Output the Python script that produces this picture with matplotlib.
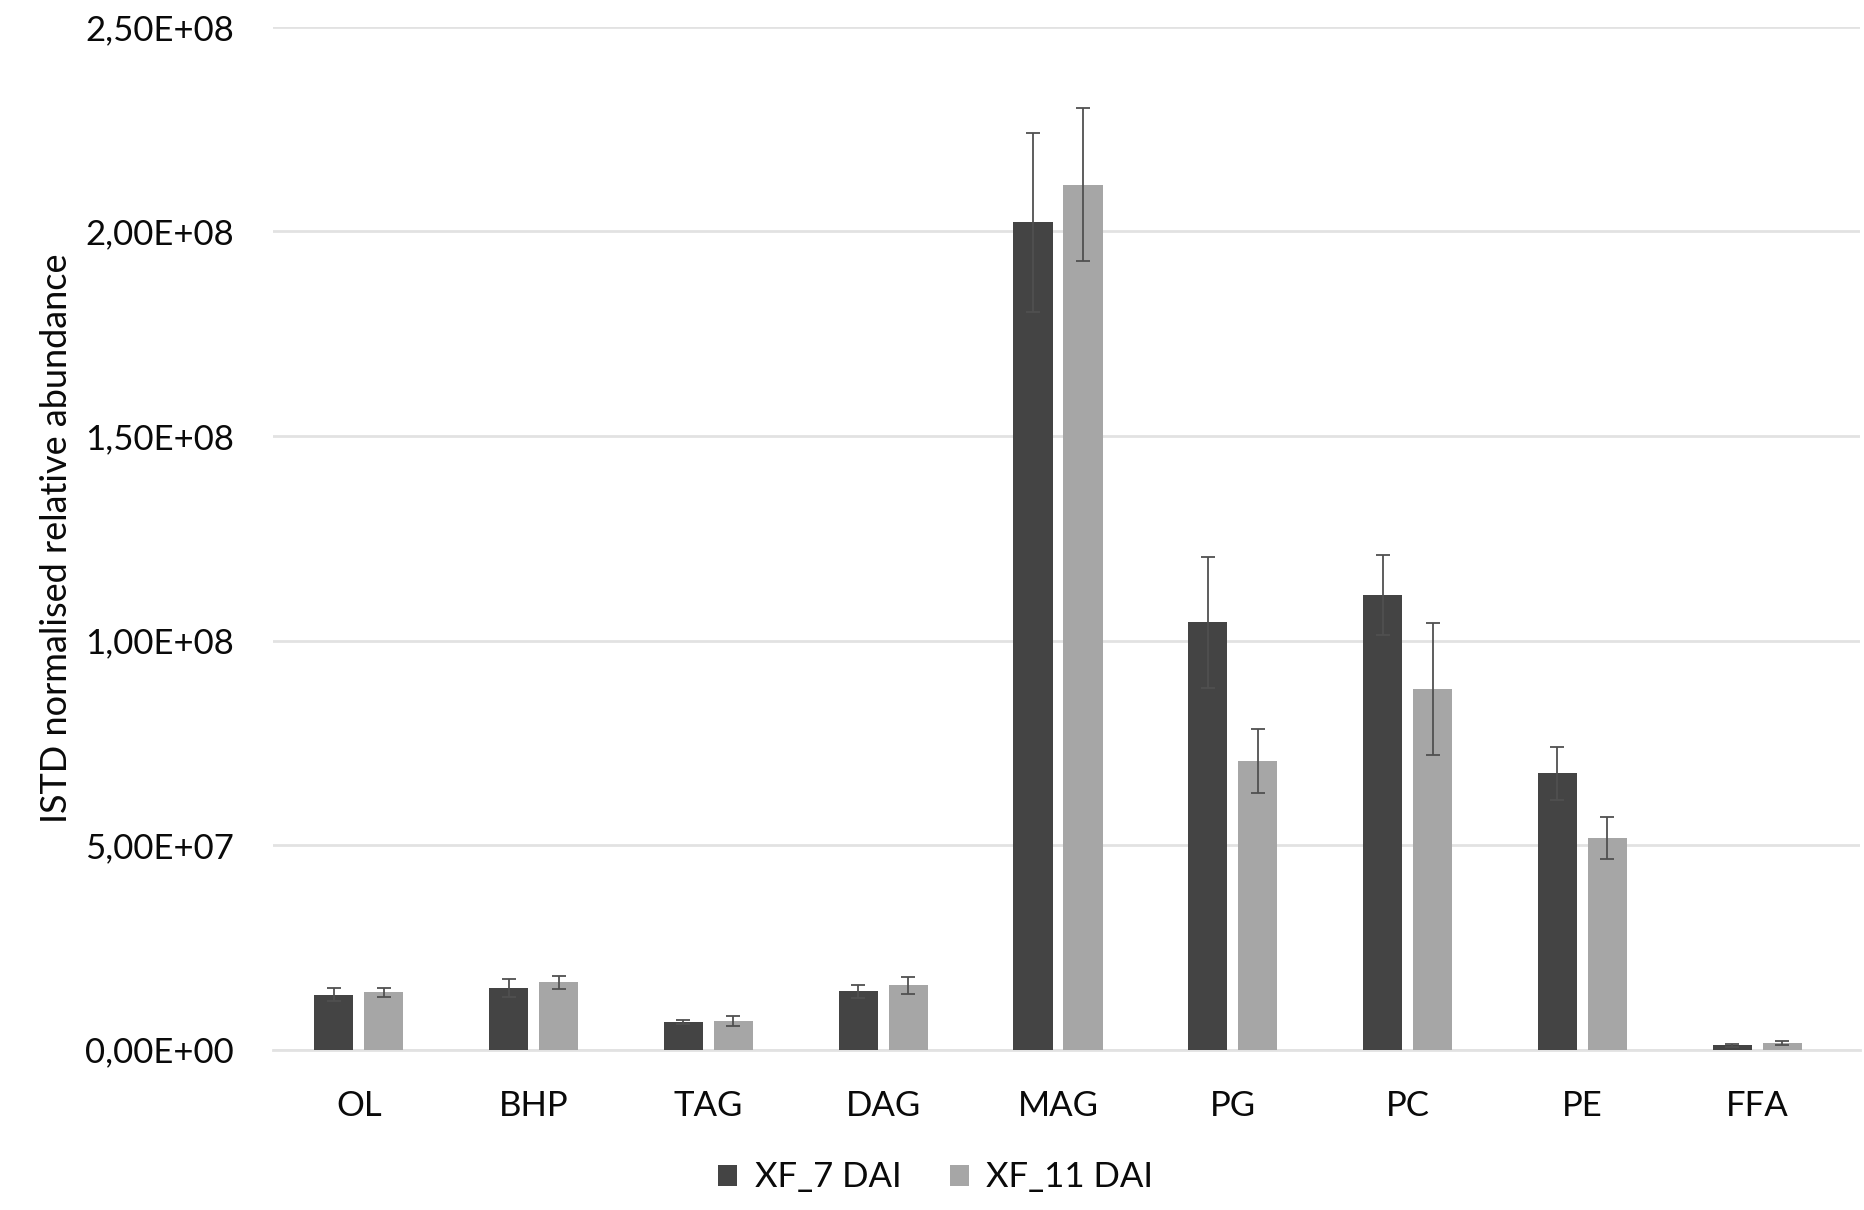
import numpy as np
import matplotlib.pyplot as plt
from matplotlib.ticker import FuncFormatter

# ============================================================================
# DATA
# ============================================================================
categories = ['OL', 'BHP', 'TAG', 'DAG', 'MAG', 'PG', 'PC', 'PE', 'FFA']
series_names = ['XF_7 DAI', 'XF_11 DAI']

xf7_values = [13.4e6, 15.1e6, 6.7e6, 14.3e6, 202.2e6, 104.5e6, 111.2e6, 67.5e6, 1.0e6]
xf7_errors = [1.6e6, 2.2e6, 0.5e6, 1.6e6, 21.8e6, 16.0e6, 9.8e6, 6.4e6, 0.3e6]

xf11_values = [14.0e6, 16.5e6, 6.9e6, 15.7e6, 211.4e6, 70.6e6, 88.2e6, 51.8e6, 1.6e6]
xf11_errors = [1.1e6, 1.6e6, 1.2e6, 2.0e6, 18.7e6, 7.8e6, 16.1e6, 5.1e6, 0.4e6]

y_ticks = [0, 50e6, 100e6, 150e6, 200e6, 250e6]

# ============================================================================
# STYLE
# ============================================================================
plt.rcParams['font.family'] = ['Lato', 'DejaVu Sans']

DARK = '#444444'
LIGHT = '#a6a6a6'
ERR = '#505050'
GRID = '#e2e2e2'
TEXT = '#0a0a0a'

BAR_W = 0.224
OFFSET = 0.143
FS = 25


def sci_comma(v, pos):
    """Excel style scientific label with a decimal comma."""
    return f"{v:.2E}".replace('.', ',')


def main():
    fig = plt.figure(figsize=(18.64, 12.10), dpi=100)
    ax = fig.add_axes([0.1465, 0.1326, 0.8515, 0.8451])

    x = np.arange(len(categories))
    err_style = dict(ecolor=ERR, elinewidth=1.3, capsize=5, capthick=1.3)

    ax.bar(x - OFFSET, xf7_values, BAR_W, yerr=xf7_errors, color=DARK,
           label=series_names[0], error_kw=err_style, zorder=3)
    ax.bar(x + OFFSET, xf11_values, BAR_W, yerr=xf11_errors, color=LIGHT,
           label=series_names[1], error_kw=err_style, zorder=3)

    ax.set_xlim(-0.49, 8.59)
    ax.set_ylim(0, 250e6)
    ax.set_yticks(y_ticks)
    ax.yaxis.set_major_formatter(FuncFormatter(sci_comma))
    ax.set_xticks(x)
    ax.set_xticklabels(categories)

    ax.grid(axis='y', color=GRID, linewidth=2, zorder=0)
    ax.set_axisbelow(True)
    for side in ['top', 'right', 'left']:
        ax.spines[side].set_visible(False)
    ax.spines['bottom'].set_color(GRID)
    ax.spines['bottom'].set_linewidth(2)

    ax.tick_params(axis='y', length=0, pad=28, labelsize=FS, labelcolor=TEXT)
    ax.tick_params(axis='x', length=0, pad=29, labelsize=FS, labelcolor=TEXT)

    ax.set_ylabel('ISTD normalised relative abundance', fontsize=26,
                  color=TEXT, labelpad=9)

    fig.legend(loc='center', bbox_to_anchor=(0.502, 0.027), ncol=2,
               frameon=False, fontsize=FS, handlelength=0.55, handleheight=0.55,
               handletextpad=0.5, columnspacing=1.4, labelcolor=TEXT)

    fig.savefig('out.png', dpi=100, facecolor='white')


if __name__ == "__main__":
    main()
